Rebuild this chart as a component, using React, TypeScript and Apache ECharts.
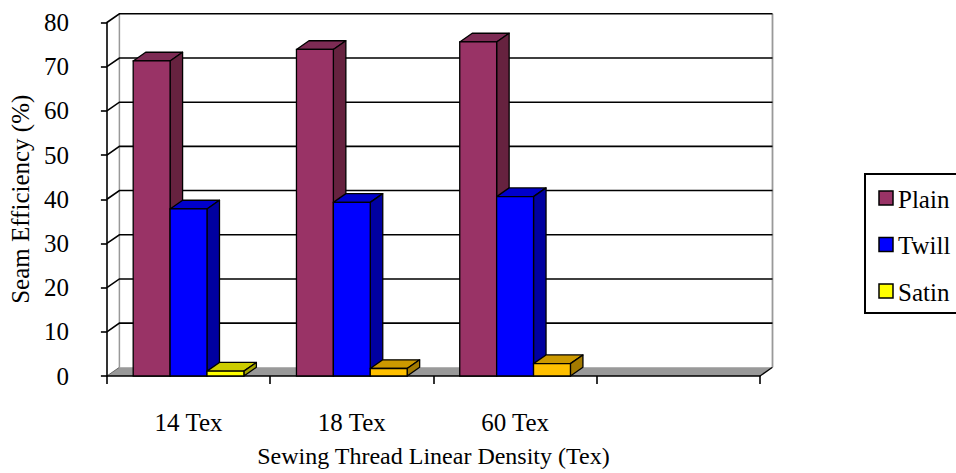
import React, { useEffect, useRef } from "react";
import * as echarts from "echarts";

// ---- data ----
const CATEGORIES = ["14 Tex", "18 Tex", "60 Tex", ""];
const SERIES_NAMES = ["Plain", "Twill", "Satin"];
const PLAIN = [71.3, 73.9, 75.6];
const TWILL = [37.8, 39.3, 40.6];
const SATIN = [1.1, 1.7, 2.8];
const Y_TICKS = [0, 10, 20, 30, 40, 50, 60, 70, 80];

// ---- style ----
const FONT = "Liberation Serif";
const DX = 12.5;
const DY = -8.7;
const BAR_FRAC = 0.226;
const FACE_COLORS: { front: string; top: string; side: string }[][] = [
  [
    { front: "#993366", top: "#7d2b54", side: "#66223f" },
    { front: "#993366", top: "#7d2b54", side: "#66223f" },
    { front: "#993366", top: "#7d2b54", side: "#66223f" },
  ],
  [
    { front: "#0000ff", top: "#0000cc", side: "#0000a0" },
    { front: "#0000ff", top: "#0000cc", side: "#0000a0" },
    { front: "#0000ff", top: "#0000cc", side: "#0000a0" },
  ],
  [
    { front: "#ffff00", top: "#cccc00", side: "#a3a300" },
    { front: "#ffc000", top: "#cc9900", side: "#a37a00" },
    { front: "#ffc000", top: "#cc9900", side: "#a37a00" },
  ],
];
const LEGEND_COLORS = ["#993366", "#0000ff", "#ffff00"];

function barRender(si: number) {
  return (params: any, api: any) => {
    const cat = api.value(0);
    const v = api.value(1);
    const base = api.coord([cat, 0]);
    const top = api.coord([cat, v]);
    const slotW = api.size([1, 0])[0];
    const bw = slotW * BAR_FRAC;
    const x0 = base[0] - 1.5 * bw + si * bw;
    const x1 = x0 + bw;
    const y0 = base[1];
    const y1 = top[1];
    const c = FACE_COLORS[si][params.dataIndex];
    const lw = 1.3;
    return {
      type: "group",
      children: [
        {
          type: "polygon",
          shape: { points: [[x0, y1], [x1, y1], [x1 + DX, y1 + DY], [x0 + DX, y1 + DY]] },
          style: { fill: c.top, stroke: "#000", lineWidth: lw, lineJoin: "round" },
        },
        {
          type: "polygon",
          shape: { points: [[x1, y0], [x1 + DX, y0 + DY], [x1 + DX, y1 + DY], [x1, y1]] },
          style: { fill: c.side, stroke: "#000", lineWidth: lw, lineJoin: "round" },
        },
        {
          type: "rect",
          shape: { x: x0, y: y1, width: bw, height: y0 - y1 },
          style: { fill: c.front, stroke: "#000", lineWidth: lw },
        },
      ],
    };
  };
}

function wallRender(_params: any, api: any) {
  const slotW = api.size([1, 0])[0];
  const n = CATEGORIES.length;
  const left = api.coord([0, 0])[0] - slotW / 2;
  const right = api.coord([n - 1, 0])[0] + slotW / 2;
  const yMin = api.coord([0, Y_TICKS[0]])[1];
  const yMax = api.coord([0, Y_TICKS[Y_TICKS.length - 1]])[1];
  const children: any[] = [];
  children.push({
    type: "polygon",
    shape: { points: [[left, yMin], [right, yMin], [right + DX, yMin + DY], [left + DX, yMin + DY]] },
    style: { fill: "#999999", stroke: null },
  });
  children.push({
    type: "line",
    shape: { x1: right, y1: yMin, x2: right + DX, y2: yMin + DY },
    style: { stroke: "#000", lineWidth: 1.3 },
  });
  children.push({
    type: "line",
    shape: { x1: left, y1: yMin, x2: left + DX, y2: yMin + DY },
    style: { stroke: "#666", lineWidth: 1 },
  });
  children.push({
    type: "line",
    shape: { x1: left + DX, y1: yMin + DY, x2: left + DX, y2: yMax + DY },
    style: { stroke: "#999", lineWidth: 1.5 },
  });
  children.push({
    type: "line",
    shape: { x1: right + DX, y1: yMin + DY, x2: right + DX, y2: yMax + DY },
    style: { stroke: "#999", lineWidth: 1.8 },
  });
  Y_TICKS.forEach((t) => {
    if (t === 0) return;
    const y = api.coord([0, t])[1];
    children.push({
      type: "polyline",
      shape: { points: [[left, y], [left + DX, y + DY], [right + DX, y + DY]] },
      style: { stroke: "#000", lineWidth: 1.6, fill: null },
    });
  });
  return { type: "group", children };
}

function legendGraphic() {
  const x = 865;
  const y = 174;
  const step = 46.5;
  const children: any[] = [
    {
      type: "rect",
      shape: { x, y, width: 110, height: 139 },
      style: { fill: "#fff", stroke: "#000", lineWidth: 2 },
    },
  ];
  SERIES_NAMES.forEach((name, i) => {
    const cy = y + 24 + i * step;
    children.push({
      type: "rect",
      shape: { x: x + 14, y: cy - 7, width: 14, height: 14 },
      style: { fill: LEGEND_COLORS[i], stroke: "#000", lineWidth: 1.5 },
    });
    children.push({
      type: "text",
      x: x + 33,
      y: cy + 1,
      style: {
        text: name,
        fill: "#000",
        font: `25px "${FONT}"`,
        fontSize: 25,
        fontFamily: FONT,
        verticalAlign: "middle",
        align: "left",
      },
    });
  });
  return { type: "group", children };
}

export default function App() {
  const ref = useRef<HTMLDivElement>(null);
  useEffect(() => {
    document.body.style.margin = "0";
    if (!ref.current) return;
    const chart = echarts.init(ref.current, null, { renderer: "svg" });
    const seriesData = [PLAIN, TWILL, SATIN];
    chart.setOption({
      animation: false,
      backgroundColor: "#ffffff",
      textStyle: { fontFamily: FONT },
      grid: { left: 106, right: 196, top: 22.5, bottom: 93 },
      graphic: [legendGraphic()],
      xAxis: {
        type: "category",
        data: CATEGORIES,
        boundaryGap: true,
        name: "Sewing Thread Linear Density (Tex)",
        nameLocation: "middle",
        nameGap: 68,
        nameTextStyle: { fontSize: 24, fontFamily: FONT, color: "#000" },
        axisLine: { show: true, lineStyle: { color: "#000", width: 1.6 } },
        axisTick: { show: true, length: 8, lineStyle: { color: "#000", width: 1.6 } },
        axisLabel: { fontSize: 25, fontFamily: FONT, color: "#000", margin: 34 },
        splitLine: { show: false },
      },
      yAxis: {
        type: "value",
        min: 0,
        max: 80,
        interval: 10,
        name: "Seam Efficiency (%)",
        nameLocation: "middle",
        nameGap: 72,
        nameTextStyle: { fontSize: 25, fontFamily: FONT, color: "#000" },
        axisLine: { show: true, lineStyle: { color: "#000", width: 1.6 } },
        axisTick: { show: true, length: 6, lineStyle: { color: "#000", width: 1.6 } },
        axisLabel: { fontSize: 25, fontFamily: FONT, color: "#000", margin: 38 },
        splitLine: { show: false },
      },
      series: [
        {
          type: "custom",
          name: "walls",
          z: -1,
          silent: true,
          renderItem: wallRender,
          data: [[0, 0]],
          encode: { x: 0, y: 1 },
        },
        ...SERIES_NAMES.map((name, si) => ({
          type: "custom",
          name,
          z: 2,
          itemStyle: { color: LEGEND_COLORS[si] },
          renderItem: barRender(si),
          data: seriesData[si].map((v, i) => [i, v]),
          encode: { x: 0, y: 1 },
        })),
      ],
    });
    return () => chart.dispose();
  }, []);
  return <div ref={ref} style={{ width: 956, height: 473 }} />;
}
